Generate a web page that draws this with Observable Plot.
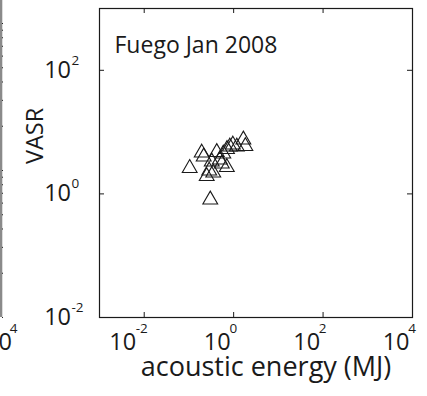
<!DOCTYPE html>
<html>
<head>
<meta charset="utf-8">
<script src="https://cdn.jsdelivr.net/npm/d3@7"></script>
<script src="https://cdn.jsdelivr.net/npm/@observablehq/plot@0.6"></script>
<style>
  html, body { margin: 0; padding: 0; background: #fff; }
  #wrap { position: relative; width: 427px; height: 396px; overflow: hidden; }
  #wrap svg { position: absolute; left: 0; top: 0; }
</style>
</head>
<body>
<div id="wrap"></div>
<script>
// Fuego, January 2008: acoustic energy vs VASR, one triangle per explosion
const energyMJ = [0.104, 0.193, 0.214, 0.300, 0.250, 0.284, 0.350, 0.324, 0.419, 0.490,
                  0.587, 0.704, 0.71, 0.822, 0.96, 1.18, 1.65, 1.83, 0.543];
const vasr     = [2.61, 4.64, 4.00, 0.806, 1.93, 2.37, 2.20, 3.32, 4.73, 3.58,
                  4.47, 2.70, 5.29, 5.80, 6.25, 5.80, 7.54, 5.91, 3.08];

// decade ticks and their exponent labels
const xTicks = [1e-2, 1, 1e2, 1e4];
const xExponents = ["-2", "0", "2", "4"];
const yTicks = [1e-2, 1, 1e2];
const yExponents = ["-2", "0", "2"];

const panelTitle = "Fuego Jan 2008";
const xLabel = "acoustic energy (MJ)";
const yLabel = "VASR";

const events = energyMJ.map((e, i) => ({energy: e, vasr: vasr[i]}));
const font = "'Open Sans', sans-serif";
const ink = "#1a1a1a";

const W = 427, H = 396, mL = 99, mR = 15, mT = 8, mB = 79;
const frameW = W - mL - mR, frameH = H - mT - mB;
const tickLen = 5;
const big = 23.5, small = 13.5;

const xt = xTicks.map((v, i) => ({v, e: xExponents[i]}));
const yt = yTicks.map((v, i) => ({v, e: yExponents[i]}));

const chart = Plot.plot({
  width: W, height: H,
  marginLeft: mL, marginRight: mR, marginTop: mT, marginBottom: mB,
  style: {fontFamily: font, background: "transparent", color: ink},
  x: {type: "log", domain: [1e-3, 1e4], axis: null},
  y: {type: "log", domain: [1e-2, 1e3], axis: null},
  marks: [
    Plot.frame({stroke: ink, strokeWidth: 1.2}),
    // inward ticks on all four sides
    Plot.tickX(xTicks.slice(0, 3), {x: d => d, insetTop: frameH - tickLen, stroke: ink}),
    Plot.tickX(xTicks.slice(0, 3), {x: d => d, insetBottom: frameH - tickLen, stroke: ink}),
    Plot.tickY(yTicks.slice(1), {y: d => d, insetRight: frameW - tickLen, stroke: ink}),
    Plot.tickY(yTicks.slice(1), {y: d => d, insetLeft: frameW - tickLen, stroke: ink}),
    // x tick labels: "10" with a raised exponent
    Plot.text(xt, {x: "v", text: "e", frameAnchor: "bottom", textAnchor: "end", dx: 3.5, dy: 15.5, fontSize: small, fill: ink}),
    Plot.text(xt, {filter: d => d.e.length === 1, x: "v", text: () => "10", frameAnchor: "bottom", textAnchor: "end", dx: -3, dy: 32, fontSize: big, fill: ink}),
    Plot.text(xt, {filter: d => d.e.length > 1, x: "v", text: () => "10", frameAnchor: "bottom", textAnchor: "end", dx: -8, dy: 32, fontSize: big, fill: ink}),
    // y tick labels
    Plot.text(yt, {y: "v", text: () => "10", frameAnchor: "left", textAnchor: "end", dx: -28.5, dy: 0, fontSize: big, fill: ink}),
    Plot.text(yt, {y: "v", text: "e", frameAnchor: "left", textAnchor: "start", dx: -28, dy: -10, fontSize: small, fill: ink}),
    // axis labels and panel title
    Plot.text([xLabel], {frameAnchor: "bottom", dx: 10, dy: 58.5, fontSize: 27, fill: ink}),
    Plot.text([yLabel], {frameAnchor: "left", rotate: -90, dx: -64.5, dy: 1, fontSize: 23.5, fill: ink}),
    Plot.text([panelTitle], {frameAnchor: "top-left", textAnchor: "start", dx: 15, dy: 28, fontSize: 23, fill: ink}),
    // data
    Plot.dot(events, {x: "energy", y: "vasr", symbol: "triangle", r: 5.5, stroke: ink, strokeWidth: 1.1, fill: "none"})
  ]
});

// right edge of the neighbouring panel (log y axis with minor ticks) and its last x label
const neighbourTicks = d3.scaleLog().domain([1, 100]).ticks();
const neighbour = Plot.plot({
  width: 20, height: H,
  marginLeft: 0, marginRight: 19, marginTop: 0, marginBottom: mB,
  style: {fontFamily: font, background: "transparent", overflow: "visible"},
  x: {domain: [0, 1], axis: null},
  y: {type: "log", domain: [1, Math.pow(10, 317 / 147)], axis: null},
  marks: [
    Plot.ruleX([1], {stroke: "#8a8a8a", strokeWidth: 2.6, dx: -0.5}),
    Plot.tickY(neighbourTicks, {y: d => d, stroke: "#222", strokeWidth: 1, dx: 2}),
    Plot.text(["10"], {frameAnchor: "bottom-right", textAnchor: "end", dx: 10.5, dy: 32, fontSize: big, fill: ink}),
    Plot.text(["4"], {frameAnchor: "bottom-right", textAnchor: "end", dx: 16, dy: 15.5, fontSize: small, fill: ink})
  ]
});

const wrap = document.getElementById("wrap");
wrap.appendChild(chart);
wrap.appendChild(neighbour);
</script>
</body>
</html>
